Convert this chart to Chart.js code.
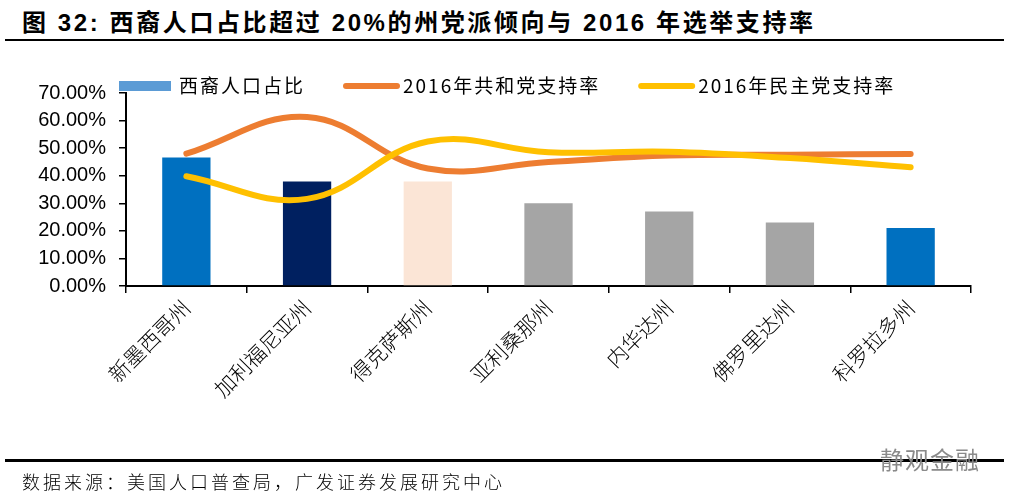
<!DOCTYPE html>
<html>
<head>
<meta charset="utf-8">
<script src="https://cdn.jsdelivr.net/npm/chart.js@4.4.0/dist/chart.umd.min.js"></script>
<style>
    body { margin: 0; width: 1009px; height: 500px; background: #fff; position: relative; overflow: hidden;
           font-family: "Liberation Sans", Arial, "Noto Sans CJK SC", sans-serif; }
    #title { position: absolute; left: 22px; top: 3px; font-size: 24px; font-weight: bold; letter-spacing: 2.6px; white-space: nowrap; }
    .rule { position: absolute; left: 5px; width: 999px; background: #000; }
    #source { position: absolute; left: 22px; top: 468px; font-size: 18px; letter-spacing: 3px; white-space: nowrap;
              font-family: "Noto Sans CJK SC", sans-serif; font-weight: 300; }
    #mark { position: absolute; left: 880px; top: 441px; font-size: 24px; color: #8a8a8a; letter-spacing: 1px;
            font-family: "Noto Sans CJK SC", sans-serif; }
    #chart { position: absolute; left: 0; top: 0; }
</style>
</head>
<body>
<div id="title">图 32:&nbsp;西裔人口占比超过 20%的州党派倾向与 2016 年选举支持率</div>
<div class="rule" style="top:39px;height:2px"></div>
<canvas id="chart" width="1009" height="500"></canvas>
<div class="rule" style="top:459px;height:3px"></div>
<div id="source">数据来源：美国人口普查局，广发证券发展研究中心</div>
<div id="mark">静观金融</div>
<script>
// Categories and series (percent)
var states = ['新墨西哥州', '加利福尼亚州', '得克萨斯州', '亚利桑那州', '内华达州', '佛罗里达州', '科罗拉多州'];
var hispanicShare = [46.6, 37.9, 37.9, 30.0, 27.0, 23.0, 21.0];
var repRate = [48.0, 61.3, 42.6, 45.0, 47.3, 47.6, 47.9];
var demRate = [39.8, 31.6, 52.4, 48.5, 48.7, 46.4, 43.1];
var yTicks = [0, 10, 20, 30, 40, 50, 60, 70];

var barColors = ['#0070C0', '#002060', '#FBE5D6', '#A5A5A5', '#A5A5A5', '#A5A5A5', '#0070C0'];
var barLegendColor = '#5B9BD5';

// Legend drawn by hand so it can sit level with the top tick, like the original
const topLegend = {
    id: 'topLegend',
    afterDraw(chart) {
        const ctx = chart.ctx;
        ctx.save();
        ctx.font = '19px "Noto Sans CJK SC", sans-serif';
        ctx.textBaseline = 'middle';
        if ('letterSpacing' in ctx) ctx.letterSpacing = '2px';
        let x = 119;
        const y = 86;
        chart.data.datasets.forEach(ds => {
            if (ds.type === 'line') {
                ctx.strokeStyle = ds.borderColor;
                ctx.lineWidth = 6;
                ctx.lineCap = 'round';
                ctx.beginPath();
                ctx.moveTo(x + 3, y);
                ctx.lineTo(x + 54, y);
                ctx.stroke();
            } else {
                ctx.fillStyle = barLegendColor;
                ctx.fillRect(x, y - 5, 52, 10);
            }
            ctx.fillStyle = '#000';
            ctx.fillText(ds.label, x + 60, y);
            x += 60 + ctx.measureText(ds.label).width + 38;
        });
        ctx.restore();
    }
};

const ctx = document.getElementById('chart').getContext('2d');
const chart = new Chart(ctx, {
    type: 'bar',
    data: {
        labels: states,
        datasets: [{
            label: '西裔人口占比',
            data: hispanicShare,
            backgroundColor: barColors,
            categoryPercentage: 1,
            barPercentage: 0.4,
            order: 3
        }, {
            type: 'line',
            label: '2016年共和党支持率',
            data: repRate,
            borderColor: '#ED7D31',
            backgroundColor: '#ED7D31',
            borderWidth: 6,
            borderCapStyle: 'round',
            tension: 0.4,
            pointRadius: 0,
            fill: false,
            order: 2
        }, {
            type: 'line',
            label: '2016年民主党支持率',
            data: demRate,
            borderColor: '#FFC000',
            backgroundColor: '#FFC000',
            borderWidth: 6,
            borderCapStyle: 'round',
            tension: 0.4,
            pointRadius: 0,
            fill: false,
            order: 1
        }]
    },
    options: {
        responsive: false,
        animation: false,
        layout: { padding: { left: 0, right: 38, top: 93, bottom: 94 } },
        plugins: { legend: { display: false }, tooltip: { enabled: false } },
        scales: {
            x: {
                grid: { drawOnChartArea: false, color: '#000', tickLength: 7, lineWidth: 1.5 },
                border: { color: '#000', width: 2 },
                ticks: {
                    color: '#000',
                    font: { family: '"Noto Sans CJK SC", sans-serif', size: 21, weight: 300 },
                    maxRotation: 45, minRotation: 45, autoSkip: false, padding: 2
                },
                afterFit(s) { s.height = 120; }
            },
            y: {
                min: 0,
                max: 70,
                afterBuildTicks(s) { s.ticks = yTicks.map(v => ({ value: v })); },
                grid: { drawOnChartArea: false, color: '#000', tickLength: 7, lineWidth: 1.5 },
                border: { color: '#000', width: 2 },
                ticks: {
                    color: '#000',
                    font: { family: '"Liberation Sans", Arial, sans-serif', size: 20 },
                    padding: 13,
                    callback: v => v.toFixed(2) + '%'
                },
                afterFit(s) { s.width = 126; }
            }
        }
    },
    plugins: [topLegend]
});
</script>
</body>
</html>
